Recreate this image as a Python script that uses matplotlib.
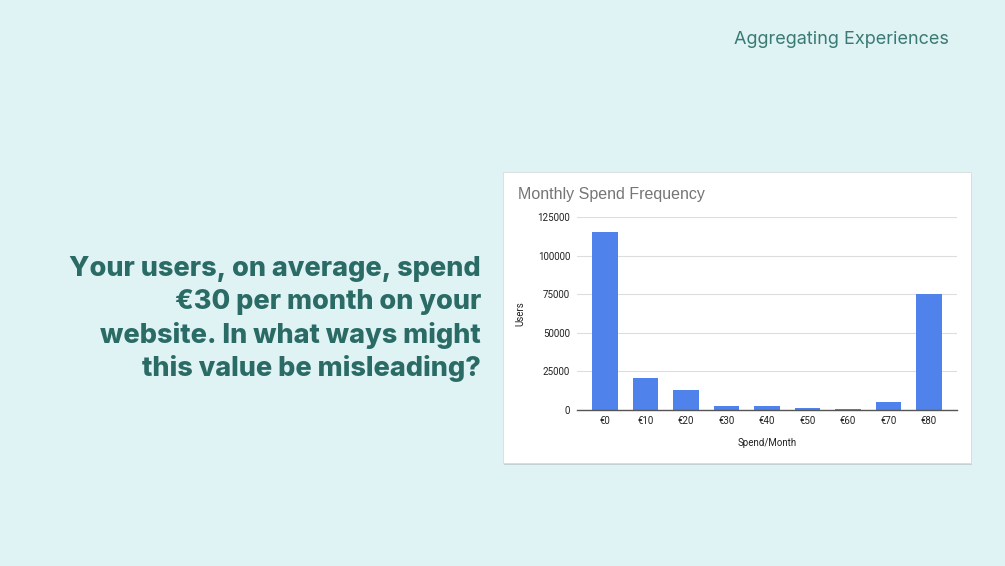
import numpy as np
import matplotlib.pyplot as plt
from matplotlib.patches import Rectangle

# dados do gráfico
spend_labels = ["€0", "€10", "€20", "€30", "€40", "€50", "€60", "€70", "€80"]
users = [115000, 21000, 13000, 2500, 2500, 1500, 800, 5000, 75000]
y_ticks = [0, 25000, 50000, 75000, 100000, 125000]

bg = "#dff3f5"
teal = "#2b6b66"
W, H = 1005, 566

fig = plt.figure(figsize=(W / 100, H / 100), dpi=100)
fig.patch.set_facecolor(bg)


def fx(px):
    return px / W


def fy(py):
    return 1 - py / H


# Cartão branco com sombra
x0, y0, x1, y1 = 503, 172, 971, 463
fig.patches.append(Rectangle((fx(x0 + 1), fy(y1 + 2)), fx(x1 - x0), (y1 - y0) / H,
                             transform=fig.transFigure, facecolor="#b9c4c6",
                             edgecolor="none", alpha=0.7, zorder=0))
fig.patches.append(Rectangle((fx(x0), fy(y1)), fx(x1 - x0), (y1 - y0) / H,
                             transform=fig.transFigure, facecolor="white",
                             edgecolor="#d8dcdd", linewidth=0.6, zorder=1))

# Eixos do gráfico
ax = fig.add_axes([fx(577), fy(410), fx(957 - 577), (410 - 217) / H])
ax.set_zorder(5)
ax.set_facecolor("none")
x = np.arange(len(users))
ax.bar(x, users, width=0.64, color="#4f82ea", zorder=3)
ax.set_xlim(-0.69, len(users) - 1 + 0.69)
ax.set_ylim(0, 125000)
ax.set_yticks(y_ticks)
ax.set_yticklabels([str(t) for t in y_ticks], family="Roboto")
ax.set_xticks(x)
ax.set_xticklabels(spend_labels, family="Roboto")
ax.tick_params(axis="both", length=0, labelsize=7, colors="#222222")
ax.tick_params(axis="x", pad=4)
ax.tick_params(axis="y", pad=5)
ax.grid(axis="y", color="#dddddd", linewidth=0.8, zorder=0)
for s in ["top", "right", "left"]:
    ax.spines[s].set_visible(False)
ax.spines["bottom"].set_color("#555555")
ax.spines["bottom"].set_linewidth(1.0)
ax.spines["bottom"].set_zorder(4)
ax.set_xlabel("Spend/Month", fontsize=7, color="#222222", labelpad=9,
              family="Roboto")
ax.set_ylabel("Users", fontsize=7, color="#222222", family="Roboto")
ax.yaxis.set_label_coords((525 - 577) / (957 - 577), 0.5)

fig.text(fx(518), fy(194), "Monthly Spend Frequency", fontsize=11.5,
         color="#757575", va="center", ha="left", family="Liberation Sans")

# Texto do slide
fig.text(fx(949), fy(40), "Aggregating Experiences", fontsize=13,
         color="#3a7a72", ha="right", va="center", family="Inter")

lines = ["Your users, on average, spend",
         "€30 per month on your",
         "website. In what ways might",
         "this value be misleading?"]
for i, line in enumerate(lines):
    fig.text(fx(481), fy(269 + i * 33.2), line, fontsize=19.5, fontweight="heavy",
             color=teal, ha="right", va="center", family="Inter")

fig.savefig("out.png", dpi=100, facecolor=bg)
